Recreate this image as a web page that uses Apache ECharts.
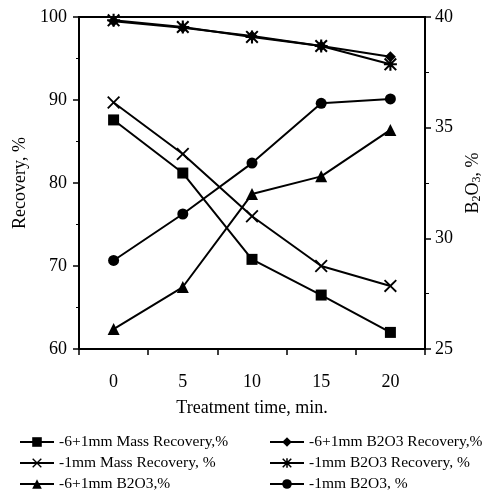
<!DOCTYPE html>
<html>
<head>
<meta charset="utf-8">
<script src="https://cdn.jsdelivr.net/npm/echarts@6/dist/echarts.min.js"></script>
<style>
html, body { margin: 0; padding: 0; background: #fff; }
#chart { width: 495px; height: 502px; }
</style>
</head>
<body>
<div id="chart"></div>
<script>
const times = ['0', '5', '10', '15', '20'];
// left axis (Recovery, %)
const massCoarse = [87.6, 81.2, 70.8, 66.5, 62.0];
const massFine = [89.7, 83.5, 76.0, 70.0, 67.6];
const b2o3RecCoarse = [99.5, 98.7, 97.7, 96.5, 95.2];
const b2o3RecFine = [99.6, 98.8, 97.6, 96.5, 94.3];
// right axis (B2O3, %)
const b2o3Coarse = [25.9, 27.8, 32.0, 32.8, 34.9];
const b2o3Fine = [29.0, 31.1, 33.4, 36.1, 36.3];

const names = [
    '-6+1mm Mass Recovery,%',
    '-1mm Mass Recovery, %',
    '-6+1mm B2O3,%',
    '-6+1mm B2O3 Recovery,%',
    '-1mm B2O3 Recovery, %',
    '-1mm B2O3, %'
];

const FONT = '"Liberation Serif", "DejaVu Serif", serif';
const crossPath = 'path://M0,1L1,0L5,4L9,0L10,1L6,5L10,9L9,10L5,6L1,10L0,9L4,5Z';
const starPath = 'path://M4.2,0L5.8,0L5.8,4.2L10,4.2L10,5.8L5.8,5.8L5.8,10L4.2,10L4.2,5.8L0,5.8L0,4.2L4.2,4.2Z' +
    'M0,1.1L1.1,0L5,3.9L8.9,0L10,1.1L6.1,5L10,8.9L8.9,10L5,6.1L1.1,10L0,8.9L3.9,5Z';

function mkSeries(name, data, symbol, size, yIdx) {
    return {
        name: name,
        type: 'line',
        data: data,
        yAxisIndex: yIdx,
        symbol: symbol,
        symbolSize: size,
        lineStyle: { color: '#000', width: 2 },
        itemStyle: { color: '#000' },
        emphasis: { disabled: true },
        animation: false
    };
}

function mkLegend(data, left) {
    return {
        data: data,
        orient: 'vertical', left: left, top: 428, height: 72,
        itemWidth: 34, itemHeight: 12, itemGap: 3,
        textStyle: { fontFamily: FONT, fontSize: 15.5, lineHeight: 18, color: '#000' }
    };
}

const chart = echarts.init(document.getElementById('chart'));
chart.setOption({
    backgroundColor: '#fff',
    grid: {
        left: 79, right: 70, top: 17, bottom: 153,
        show: true, borderColor: '#000', borderWidth: 2
    },
    legend: [mkLegend(names.slice(0, 3), 14), mkLegend(names.slice(3), 264)],
    xAxis: {
        type: 'category',
        data: times,
        boundaryGap: true,
        name: 'Treatment time, min.',
        nameLocation: 'middle',
        nameGap: 50,
        nameTextStyle: { fontFamily: FONT, fontSize: 18, color: '#000' },
        axisLine: { lineStyle: { color: '#000', width: 2 } },
        axisTick: { show: true, length: 6, lineStyle: { color: '#000', width: 1.5 } },
        axisLabel: { fontFamily: FONT, fontSize: 18, color: '#000', margin: 24 },
        splitLine: { show: false }
    },
    yAxis: [
        {
            type: 'value',
            min: 60, max: 100, interval: 10,
            name: 'Recovery, %',
            nameLocation: 'middle',
            nameRotate: 90,
            nameGap: 43,
            nameTextStyle: { fontFamily: FONT, fontSize: 18, color: '#000' },
            axisLine: { show: true, lineStyle: { color: '#000', width: 2 } },
            axisTick: { show: true, length: 6, lineStyle: { color: '#000', width: 1.5 } },
            minorTick: { show: true, splitNumber: 2, length: 3, lineStyle: { color: '#000' } },
            axisLabel: { fontFamily: FONT, fontSize: 18, color: '#000', margin: 12 },
            splitLine: { show: false }
        },
        {
            type: 'value',
            min: 25, max: 40, interval: 5,
            position: 'right',
            name: 'B{s|2}O{s|3}, %',
            nameLocation: 'middle',
            nameRotate: 90,
            nameGap: 33,
            nameTextStyle: {
                fontFamily: FONT, fontSize: 18, color: '#000',
                rich: { s: { fontFamily: FONT, fontSize: 12, color: '#000', verticalAlign: 'bottom', padding: [8, 0, 0, 0] } }
            },
            axisLine: { show: true, lineStyle: { color: '#000', width: 2 } },
            axisTick: { show: true, length: 6, lineStyle: { color: '#000', width: 1.5 } },
            minorTick: { show: true, splitNumber: 2, length: 4, lineStyle: { color: '#000' } },
            axisLabel: { fontFamily: FONT, fontSize: 18, color: '#000', margin: 10 },
            splitLine: { show: false }
        }
    ],
    series: [
        mkSeries(names[0], massCoarse, 'rect', 11, 0),
        mkSeries(names[1], massFine, crossPath, 13, 0),
        mkSeries(names[2], b2o3Coarse, 'triangle', 12, 1),
        mkSeries(names[3], b2o3RecCoarse, 'diamond', 11, 0),
        mkSeries(names[4], b2o3RecFine, starPath, 13, 0),
        mkSeries(names[5], b2o3Fine, 'circle', 11, 1)
    ]
});
</script>
</body>
</html>
